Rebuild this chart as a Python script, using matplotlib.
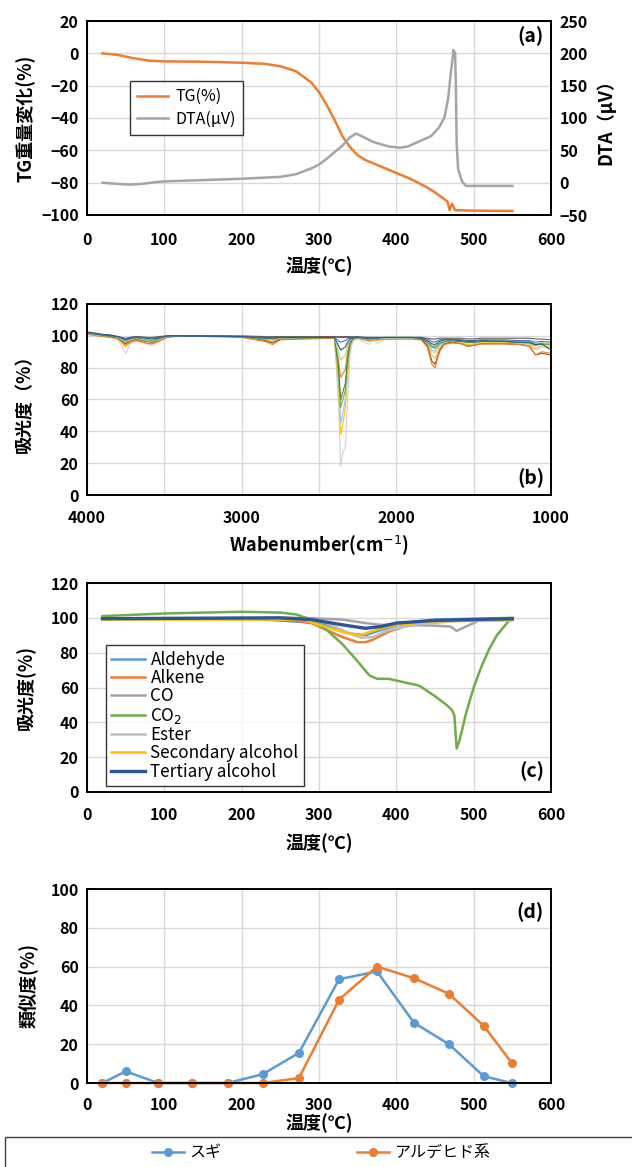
import matplotlib
matplotlib.use("Agg")
import matplotlib.pyplot as plt
from matplotlib.patches import Rectangle
from matplotlib.ticker import FixedLocator, FuncFormatter

plt.rcParams['font.family'] = ['Noto Sans CJK JP', 'DejaVu Sans']

# ---- (a) TG / DTA ----
tg_t = [20, 40, 60, 80, 100, 150, 200, 230, 250, 270, 290, 300, 310, 320, 330, 340,
        350, 360, 380, 400, 420, 440, 450, 460, 466, 469, 472, 476, 500, 550]
tg_v = [0, -1, -3, -4.5, -5, -5.2, -5.8, -6.5, -8, -11, -18, -24, -32, -41, -51, -58,
        -63, -66, -70, -74, -78, -83, -86, -89.5, -91.5, -97, -93, -97, -97.3, -97.5]
dta_t = [20, 40, 55, 70, 90, 100, 150, 200, 250, 270, 290, 300, 310, 320, 330, 340,
         348, 355, 370, 390, 405, 415, 430, 445, 455, 462, 467, 470, 474, 476, 477,
         478, 480, 485, 490, 550]
dta_v = [0, -2, -3, -2, 1, 2, 4, 6, 9, 13, 22, 28, 37, 47, 57, 70,
         76, 72, 63, 56, 54, 56, 64, 72, 85, 100, 130, 165, 205, 200, 150,
         60, 20, 2, -5, -5]

# ---- (b) FT-IR spectra ----
wn = [4000, 3900, 3850, 3800, 3750, 3720, 3680, 3620, 3580, 3540,
      3480, 3400, 3000, 2850, 2800, 2750, 2400, 2375, 2360, 2345,
      2330, 2315, 2300, 2280, 2250, 2200, 2180, 2150, 2120, 2080,
      1900, 1840, 1800, 1770, 1750, 1720, 1690, 1640, 1580, 1540,
      1500, 1450, 1300, 1200, 1140, 1100, 1060, 1000]
sp_ltgray = [101, 100, 99.5, 98, 89, 95, 97, 95, 94, 96,
             99, 100, 99.5, 97, 96, 98, 98.5, 60, 18, 27,
             30, 60, 88, 97, 98, 96, 94.5, 97, 95, 97.5,
             98, 97.5, 95, 90, 89, 93, 95, 96, 95.5, 94,
             94.5, 95.5, 95.5, 95, 94, 91, 93, 92]
sp_yellow = [101.5, 100, 99.5, 98.5, 93, 96, 97.5, 95.5, 95, 96.5,
             99.5, 100, 99.5, 97.5, 96.5, 98, 98.5, 70, 38, 45,
             55, 75, 92, 98, 98.5, 97.5, 96.5, 97.5, 97, 98,
             98.5, 98, 95, 88, 86, 92, 95, 96, 95.5, 94.5,
             95, 96, 96, 95.5, 95, 92, 94, 93]
sp_ltblue = [101.5, 100.5, 100, 99, 95, 97, 98, 96.5, 96, 97,
             99.5, 100, 99.5, 98, 97.5, 98.5, 99, 75, 45, 52,
             60, 80, 93, 98, 98.5, 98, 97.5, 98, 97.5, 98.5,
             98.5, 98, 96, 91, 90, 94, 96, 97, 96.5, 95.5,
             96, 96.5, 96.5, 96, 95.5, 94, 95, 94]
sp_green = [102, 100.5, 100, 99, 96, 97.5, 98.5, 97, 96.5, 97.5,
            99.5, 100, 99.5, 98, 97.5, 98.5, 99, 80, 55, 60,
            66, 85, 95, 98, 98.5, 98, 97.5, 98, 98, 98.5,
            98.5, 98, 96, 93, 92, 95, 96.5, 97, 96.5, 96,
            96, 96.5, 96.5, 96, 95.5, 94, 95, 94.5]
sp_dkgreen = [102, 100.5, 100, 99.5, 96.5, 98, 98.5, 97.5, 97, 98,
              99.5, 100, 99.5, 98.5, 98, 98.5, 99, 82, 60, 65,
              70, 86, 95, 98.5, 98.5, 98, 97.5, 98, 98, 98.5,
              98.5, 98, 96.5, 93.5, 93, 95.5, 96.5, 97, 96.5, 96,
              96, 96.5, 96.5, 96, 96, 94.5, 95, 95]
sp_orange = [101, 99.5, 99, 98, 94, 96, 97, 95.5, 95, 96.5,
             99, 100, 99, 96.5, 94.5, 97.5, 98.5, 85, 74, 76,
             79, 90, 96, 98, 98.5, 97.5, 97, 97.5, 97.5, 98,
             98, 97.5, 93, 82, 80, 90, 94.5, 95.5, 95, 93.5,
             94, 95, 95, 94.5, 93.5, 88, 90, 89]
sp_ltgreen = [101.5, 100, 100, 99, 96, 97.5, 98.5, 97, 96.5, 97.5,
              99.5, 100, 99.5, 98, 97.5, 98.5, 99, 90, 85, 86,
              88, 94, 97, 98.5, 98.5, 98, 98, 98, 98, 98.5,
              98.5, 98.5, 97, 94, 93.5, 96, 97, 97.5, 97, 96.5,
              96.5, 97, 97, 96.5, 96.5, 95, 95.5, 95]
sp_teal = [102.5, 101, 100.5, 99.5, 97.5, 98.5, 99, 98.5, 98, 98.5,
           100, 100, 99.5, 98.5, 98.5, 99, 99, 94, 91, 92,
           93, 96, 98, 98.5, 99, 98.5, 98.5, 98.5, 98.5, 99,
           99, 98.5, 97, 95, 94.5, 96.5, 97.5, 97.5, 97, 96.5,
           96.5, 97, 96.5, 96, 96, 94.5, 95, 91]
sp_blue = [102, 100.5, 100.5, 99.5, 98, 99, 99.5, 99, 98.5, 99,
           100, 100, 99.5, 99, 99, 99, 99, 97, 96, 96.5,
           97, 98, 98.5, 99, 99, 99, 99, 99, 99, 99,
           99, 99, 98, 96.5, 96, 97.5, 98, 98, 97.5, 97,
           97, 97.5, 97.5, 97, 97, 96, 96.5, 96]
sp_brown = [101, 100, 99.5, 98.5, 95, 97, 98, 96.5, 96, 97,
            99.5, 100, 99.5, 97, 95.5, 98, 99.5, 99, 99, 99,
            99, 99, 99, 99, 99, 98.5, 98, 98.5, 98.5, 98.5,
            98.5, 98, 94, 84, 82, 91, 95, 96, 95, 93.5,
            94, 95, 95, 94.5, 93.5, 88, 89, 88]
sp_dkgray = [102, 100.5, 100, 99.5, 98.5, 99, 99.5, 99, 99, 99.5,
             100, 100, 100, 99.5, 99.5, 99.5, 99.5, 99.5, 99.5, 99.5,
             99.5, 99.5, 99.5, 99.5, 99.5, 99, 99, 99, 99, 99,
             99, 99, 98.5, 98, 98, 98.5, 98.5, 98.5, 98.5, 98,
             98, 98.5, 98.5, 98.5, 98.5, 98, 98, 97.5]

# ---- (c) gas components vs temperature ----
ald_t = [20, 100, 200, 300, 340, 360, 380, 410, 450, 550]
ald_v = [99.5, 99.8, 99.8, 97, 91, 90, 93, 97, 99, 100]
alk_t = [20, 250, 290, 310, 330, 350, 360, 370, 390, 410, 450, 500, 550]
alk_v = [99.5, 99.5, 97, 93, 89, 86, 86, 87.5, 92, 95, 98, 99, 99]
co_t = [20, 280, 330, 360, 380, 400, 450, 470, 478, 490, 510, 550]
co_v = [99.5, 100, 99, 97, 96, 96, 95.5, 95, 92.5, 95, 99, 99.5]
co2_t = [20, 100, 200, 250, 270, 290, 310, 330, 350, 365, 375, 390, 410, 430, 450,
         465, 472, 475, 478, 482, 490, 500, 510, 520, 530, 545, 550]
co2_v = [101, 102.5, 103.5, 103, 102, 99, 93, 85, 75, 67, 65, 65, 63, 61, 55,
         50, 47, 44, 25, 30, 45, 60, 72, 82, 90, 98, 99]
est_t = [20, 280, 310, 340, 355, 370, 390, 420, 460, 500, 550]
est_v = [99.5, 99.5, 97, 91, 88.5, 89, 93, 96, 97.5, 99, 99.5]
sec_t = [20, 280, 300, 330, 350, 360, 380, 400, 450, 550]
sec_v = [99, 99, 96, 92, 90, 91, 94, 96, 98, 98.5]
ter_t = [20, 250, 290, 330, 360, 380, 400, 450, 550]
ter_v = [99.5, 100, 99, 96, 94, 95, 97, 98.5, 99.5]

# ---- (d) similarity ----
sim_t = [20, 50, 92, 136, 182, 227, 274, 326, 375, 423, 468, 513, 549]
sugi = [0, 6, 0, 0, 0, 4.5, 15.5, 53.5, 57.5, 31, 20, 3.5, 0]
aldehyde_sim = [0, 0, 0, 0, 0, 0, 2.5, 43, 60, 54, 46, 29.5, 10.5]

BLUE = '#5B9BD5'
ORANGE = '#ED7D31'
GRID = '#D9D9D9'

fig = plt.figure(figsize=(6.32, 11.67), dpi=100)
W, H = 632, 1167


def add_ax(top, bottom):
    return fig.add_axes([87 / W, 1 - bottom / H, 464 / W, (bottom - top) / H])


def style(ax):
    ax.grid(True, color=GRID, lw=1)
    ax.set_axisbelow(True)
    for s in ax.spines.values():
        s.set_color('black')
        s.set_linewidth(1.4)
    ax.tick_params(length=0, labelsize=11.5, pad=6)
    for lab in ax.get_xticklabels() + ax.get_yticklabels():
        lab.set_fontweight('bold')


# (a)
ax1 = add_ax(21, 215)
ax1.plot(tg_t, tg_v, color=ORANGE, lw=1.8, label='TG(%)')
ax1.set_xlim(0, 600)
ax1.set_ylim(-100, 20)
ax1.set_xticks(range(0, 601, 100))
ax1.set_yticks(range(-100, 21, 20))
ax2 = ax1.twinx()
ax2.plot(dta_t, dta_v, color='#A5A5A5', lw=1.8, label='DTA(μV)')
ax2.set_ylim(-50, 250)
ax2.set_yticks(range(-50, 251, 50))
style(ax1)
style(ax2)
ax2.grid(False)
ax1.tick_params(axis='x', pad=12)
ax1.set_xlabel('温度(℃)', fontsize=13, fontweight='bold', labelpad=6)
ax1.set_ylabel('TG重量変化(%)', fontsize=13, fontweight='bold', labelpad=4)
ax2.set_ylabel('DTA（μV）', fontsize=13, fontweight='bold', labelpad=6)
ax1.text(0.985, 0.92, '(a)', transform=ax1.transAxes, ha='right', va='center',
         fontsize=14, fontweight='bold')
h1, l1 = ax1.get_legend_handles_labels()
h2, l2 = ax2.get_legend_handles_labels()
leg = ax1.legend(h1 + h2, l1 + l2, loc='upper left', bbox_to_anchor=(0.093, 0.69),
                 borderaxespad=0, fontsize=11.5, frameon=True, fancybox=False,
                 edgecolor='black', handlelength=1.9, handletextpad=0.5,
                 labelspacing=0.35, borderpad=0.45)
leg.get_frame().set_linewidth(1.0)

# (b)
axb = add_ax(304, 495)
spectra = [(sp_ltgray, '#D0D0D0'), (sp_yellow, '#FFC000'), (sp_ltblue, '#9DC3E6'),
           (sp_brown, '#9E480E'), (sp_orange, ORANGE), (sp_green, '#70AD47'),
           (sp_dkgreen, '#548235'), (sp_ltgreen, '#A9D18E'), (sp_blue, '#4472C4'),
           (sp_dkgray, '#636363'), (sp_teal, '#255E91')]
for vals, c in spectra:
    axb.plot(wn, vals, color=c, lw=0.8)
axb.set_xlim(4000, 1000)
axb.set_ylim(0, 120)
axb.xaxis.set_major_locator(FixedLocator(range(1000, 4001, 500)))
axb.xaxis.set_major_formatter(FuncFormatter(lambda v, p: f'{int(v)}' if int(v) % 1000 == 0 else ''))
axb.set_yticks(range(0, 121, 20))
style(axb)
axb.tick_params(axis='x', pad=11)
axb.set_xlabel('Wabenumber(cm$^{-1}$)', fontsize=13, fontweight='bold', labelpad=5)
axb.set_ylabel('吸光度（%）', fontsize=13, fontweight='bold', labelpad=12)
axb.text(0.985, 0.09, '(b)', transform=axb.transAxes, ha='right', va='center',
         fontsize=14, fontweight='bold')

# (c)
axc = add_ax(583, 792)
axc.plot(ald_t, ald_v, color=BLUE, lw=1.8, label='Aldehyde')
axc.plot(alk_t, alk_v, color=ORANGE, lw=1.8, label='Alkene')
axc.plot(co_t, co_v, color='#A5A5A5', lw=1.8, label='CO')
axc.plot(co2_t, co2_v, color='#70AD47', lw=1.8, label='CO$_2$')
axc.plot(est_t, est_v, color='#BFBFBF', lw=1.8, label='Ester')
axc.plot(sec_t, sec_v, color='#FFC000', lw=1.8, label='Secondary alcohol')
axc.plot(ter_t, ter_v, color='#2E5597', lw=2.4, label='Tertiary alcohol')
axc.set_xlim(0, 600)
axc.set_ylim(0, 120)
axc.set_xticks(range(0, 601, 100))
axc.set_yticks(range(0, 121, 20))
style(axc)
axc.tick_params(axis='x', pad=11)
axc.set_xlabel('温度(℃)', fontsize=13, fontweight='bold', labelpad=7)
axc.set_ylabel('吸光度(%)', fontsize=13, fontweight='bold', labelpad=10)
axc.text(0.985, 0.1, '(c)', transform=axc.transAxes, ha='right', va='center',
         fontsize=14, fontweight='bold')
legc = axc.legend(loc='lower left', bbox_to_anchor=(0.041, 0.03), borderaxespad=0,
                  fontsize=12.3, frameon=True, fancybox=False, edgecolor='black',
                  handlelength=2.0, handletextpad=0.3, labelspacing=0.02, borderpad=0.3)
legc.get_frame().set_linewidth(1.0)

# (d)
axd = add_ax(889, 1083)
axd.plot(sim_t, sugi, color=BLUE, lw=1.8, marker='o', ms=5.5, label='スギ')
axd.plot(sim_t, aldehyde_sim, color=ORANGE, lw=1.8, marker='o', ms=5.5, label='アルデヒド系')
axd.set_xlim(0, 600)
axd.set_ylim(0, 100)
axd.set_xticks(range(0, 601, 100))
axd.set_yticks(range(0, 101, 20))
style(axd)
axd.tick_params(axis='x', pad=10)
axd.set_xlabel('温度(℃)', fontsize=13, fontweight='bold', labelpad=0)
axd.set_ylabel('類似度(%)', fontsize=13, fontweight='bold', labelpad=8)
axd.text(0.985, 0.88, '(d)', transform=axd.transAxes, ha='right', va='center',
         fontsize=14, fontweight='bold')
for ln in axd.lines:
    ln.set_clip_on(False)

fig.patches.append(Rectangle((5 / W, -0.01), 1.0, 0.01 + 1 - 1137 / H,
                             transform=fig.transFigure, fill=False,
                             edgecolor='#404040', lw=1.0))
hd, ld = axd.get_legend_handles_labels()
fig.legend(hd, ld, loc='center', bbox_to_anchor=(321 / W, 1 - 1153 / H), ncol=2,
           frameon=False, fontsize=11.5, columnspacing=8.5, handlelength=2.0,
           handletextpad=0.3)

fig.savefig('out.png', dpi=100)
